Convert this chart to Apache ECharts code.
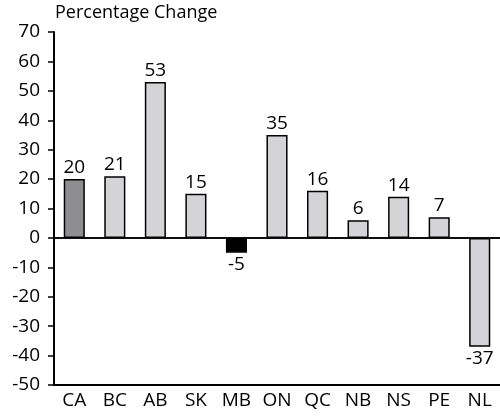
<!DOCTYPE html>
<html>
<head>
<meta charset="utf-8">
<script src="https://cdn.jsdelivr.net/npm/echarts@6/dist/echarts.min.js"></script>
<style>
  html, body { margin: 0; padding: 0; background: #fff; }
  #chart { width: 500px; height: 417px; }
</style>
</head>
<body>
<div id="chart"></div>
<script>
// Provincial percentage change
const categories = ['CA', 'BC', 'AB', 'SK', 'MB', 'ON', 'QC', 'NB', 'NS', 'PE', 'NL'];
const values = [20, 21, 53, 15, -5, 35, 16, 6, 14, 7, -37];
const yTicks = { min: -50, max: 70, interval: 10 };

const FONT = '"Open Sans", "Noto Sans", sans-serif';

function barColor(cat, v) {
  if (cat === 'CA') return '#8e8e90';
  if (v < 0 && cat === 'MB') return '#000000';
  return '#d4d4d6';
}

const chart = echarts.init(document.getElementById('chart'), null, { renderer: 'canvas' });

chart.setOption({
  animation: false,
  backgroundColor: '#ffffff',
  title: {
    text: 'Percentage Change',
    left: 50,
    top: -1,
    textStyle: { fontFamily: FONT, fontSize: 18, fontWeight: 'normal', color: '#000' }
  },
  grid: { left: 54, right: 0, top: 32, bottom: 32, containLabel: false },
  xAxis: [
    {
      type: 'category',
      data: categories,
      position: 'bottom',
      axisLine: { show: true, onZero: false, lineStyle: { color: '#000', width: 2 } },
      axisTick: { show: false },
      axisLabel: { fontFamily: FONT, fontSize: 19, color: '#000', margin: 6, interval: 0 }
    },
    {
      type: 'category',
      data: categories,
      position: 'top',
      axisLine: { show: true, lineStyle: { color: '#000', width: 1.5 } },
      axisTick: { show: false },
      axisLabel: { show: false }
    }
  ],
  yAxis: {
    type: 'value',
    min: yTicks.min,
    max: yTicks.max,
    interval: yTicks.interval,
    axisLine: { show: true, lineStyle: { color: '#000', width: 2 } },
    axisTick: { show: true, inside: false, length: 6, lineStyle: { color: '#000', width: 1.5 } },
    axisLabel: { fontFamily: FONT, fontSize: 19, color: '#000', margin: 14 },
    splitLine: { show: false }
  },
  series: [{
    type: 'bar',
    barWidth: '52%',
    data: values.map((v, i) => ({
      value: v,
      itemStyle: { color: barColor(categories[i], v) },
      label: { position: v < 0 ? 'bottom' : 'top' }
    })),
    itemStyle: { borderColor: '#000', borderWidth: 1.5 },
    label: {
      show: true,
      fontFamily: FONT,
      fontSize: 19,
      color: '#000',
      distance: 2
    },
    markLine: {
      silent: true,
      symbol: 'none',
      label: { show: false },
      lineStyle: { color: '#000', width: 1.5, type: 'solid' },
      data: [{ yAxis: 0 }]
    }
  }]
});
</script>
</body>
</html>
